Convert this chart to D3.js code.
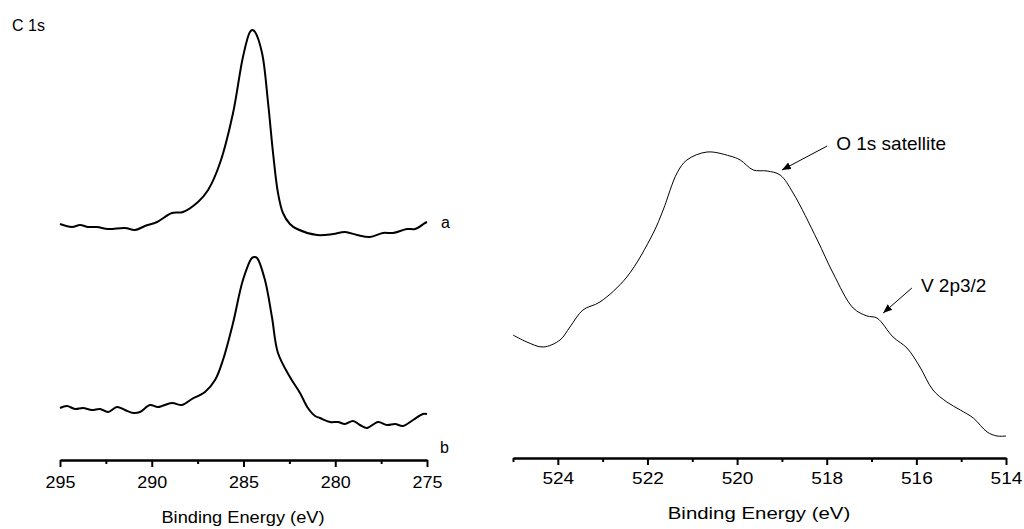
<!DOCTYPE html>
<html>
<head>
<meta charset="utf-8">
<script src="https://cdn.jsdelivr.net/npm/d3@7"></script>
<style>
  body { margin: 0; background: #fff; }
  text { font-family: "Liberation Sans", Arial, sans-serif; fill: #000; }
</style>
</head>
<body>
<script>
const WIDTH = 1024
const HEIGHT = 529

// C 1s spectra (binding energy in eV, intensity in arbitrary units, traces already offset)
const C1S_ENERGY_A = [295.00, 294.35, 293.91, 293.47, 292.98, 292.38, 291.46, 290.91, 290.37, 289.71, 288.90, 288.30, 287.48, 286.93, 286.28, 285.57, 285.03, 284.65, 284.51, 284.37, 283.99, 283.66, 283.39, 283.12, 282.85, 282.47, 282.08, 280.99, 280.12, 279.47, 278.81, 278.11, 277.40, 276.85, 276.09, 275.65, 275.11, 275.00]
const C1S_A = [236, 233, 235, 233, 233, 231, 232, 230, 234, 238, 247, 248, 258, 270, 297, 347, 403, 428, 430, 428, 407, 357, 307, 267, 247, 236, 231, 225, 226, 228, 225, 223, 227, 227, 231, 231, 237, 238]

const C1S_ENERGY_B = [295.00, 294.62, 294.18, 293.75, 293.26, 292.82, 292.38, 291.89, 291.46, 291.02, 290.64, 290.10, 289.66, 288.90, 288.35, 287.81, 287.10, 286.55, 286.12, 285.57, 285.03, 284.54, 284.40, 284.26, 283.83, 283.45, 283.12, 282.47, 281.92, 281.49, 281.10, 280.83, 280.29, 279.85, 279.47, 279.03, 278.65, 278.27, 277.67, 277.18, 276.74, 276.31, 275.76, 275.22, 275.00]
const C1S_B = [52, 54, 51, 52, 50, 51, 48, 53, 50, 47, 48, 55, 53, 57, 55, 61, 68, 80, 100, 137, 180, 202, 203, 202, 180, 143, 107, 83, 67, 52, 44, 42, 38, 38, 36, 39, 35, 32, 38, 35, 36, 34, 40, 46, 46]

// O 1s satellite / V 2p region
const V2P_ENERGY = [525.00, 524.69, 524.33, 523.95, 523.73, 523.44, 523.06, 522.46, 521.87, 521.65, 521.34, 521.12, 520.67, 520.16, 519.93, 519.64, 519.33, 519.04, 518.75, 518.21, 517.86, 517.41, 517.10, 516.88, 516.52, 516.21, 515.92, 515.63, 515.32, 515.02, 514.73, 514.42, 514.20, 514.00]
const V2P = [125, 118, 113, 120, 133, 150, 158, 183, 227, 250, 287, 300, 308, 304, 300, 290, 289, 285, 267, 220, 187, 152, 144, 142, 123, 112, 93, 70, 58, 50, 42, 28, 24, 24]

const LEFT_TICKS = [295, 290, 285, 280, 275]
const RIGHT_TICKS = [524, 522, 520, 518, 516, 514]

// annotations: [label, tail energy, tail intensity, tip energy, tip intensity]
const NOTES = [
  ['O 1s satellite', 517.99, 314, 519.0, 290],
  ['V 2p3/2', 516.10, 172, 516.74, 147]
]

const svg = d3.select('body').append('svg')
  .attr('width', WIDTH)
  .attr('height', HEIGHT)

svg.append('defs').append('marker')
  .attr('id', 'head')
  .attr('viewBox', '0 0 10 10')
  .attr('refX', 10)
  .attr('refY', 5)
  .attr('markerWidth', 9)
  .attr('markerHeight', 9)
  .attr('markerUnits', 'userSpaceOnUse')
  .attr('orient', 'auto')
  .append('path')
  .attr('d', 'M0,1 L10,5 L0,9 Z')
  .attr('fill', '#000')

const yScale = d3.scaleLinear().domain([0, 450]).range([460, 10])

// ---- left panel
const xLeft = d3.scaleLinear().domain([295, 275]).range([60, 427])

const lineLeft = (xs) => d3.line()
  .x((d, i) => xLeft(xs[i]))
  .y(d => yScale(d))
  .curve(d3.curveCatmullRom)

svg.append('path')
  .attr('d', lineLeft(C1S_ENERGY_A)(C1S_A))
  .attr('fill', 'none').attr('stroke', '#000').attr('stroke-width', 2)

svg.append('path')
  .attr('d', lineLeft(C1S_ENERGY_B)(C1S_B))
  .attr('fill', 'none').attr('stroke', '#000').attr('stroke-width', 2)

const minorLeft = d3.axisBottom(xLeft)
  .tickValues(d3.range(292.5, 275, -5))
  .tickSize(4).tickSizeOuter(0).tickFormat('')
const majorLeft = d3.axisBottom(xLeft)
  .tickValues(LEFT_TICKS)
  .tickSize(7).tickSizeOuter(0).tickFormat(d3.format('d'))

const gl = svg.append('g').attr('transform', 'translate(0,460)')
gl.append('g').call(minorLeft)
gl.append('g').call(majorLeft)
gl.selectAll('.domain').attr('stroke-width', 2)
gl.selectAll('.tick line').attr('stroke-width', 2)
gl.selectAll('.tick text')
  .attr('y', 17)
  .attr('font-size', 16)
  .attr('font-family', '"Liberation Sans", Arial, sans-serif')
  .attr('transform', 'scale(1.12,1)')

svg.append('text')
  .attr('transform', 'translate(243,523) scale(1.14,1)')
  .attr('text-anchor', 'middle')
  .attr('font-size', 16)
  .text('Binding Energy (eV)')

svg.append('text').attr('x', 12).attr('y', 31).attr('font-size', 16).text('C 1s')
svg.append('text').attr('x', 441).attr('y', 228).attr('font-size', 16).text('a')
svg.append('text').attr('x', 440).attr('y', 453).attr('font-size', 16).text('b')

// ---- right panel
const xRight = d3.scaleLinear().domain([525, 514]).range([513, 1006])

svg.append('path')
  .attr('d', d3.line()
    .x((d, i) => xRight(V2P_ENERGY[i]))
    .y(d => yScale(d))
    .curve(d3.curveCatmullRom)(V2P))
  .attr('fill', 'none').attr('stroke', '#000').attr('stroke-width', 1)

const minorRight = d3.axisBottom(xRight)
  .tickValues(d3.range(525, 514, -2))
  .tickSize(4).tickSizeOuter(0).tickFormat('')
const majorRight = d3.axisBottom(xRight)
  .tickValues(RIGHT_TICKS)
  .tickSize(7).tickSizeOuter(0).tickFormat(d3.format('d'))

const gr = svg.append('g').attr('transform', 'translate(0,458)')
gr.append('g').call(minorRight)
gr.append('g').call(majorRight)
gr.selectAll('.domain').attr('stroke-width', 2)
gr.selectAll('.tick line').attr('stroke-width', 2)
gr.selectAll('.tick text')
  .attr('y', 15)
  .attr('font-size', 16)
  .attr('font-family', '"Liberation Sans", Arial, sans-serif')
  .attr('transform', 'scale(1.19,1)')

svg.append('text')
  .attr('transform', 'translate(759,519) scale(1.2,1)')
  .attr('text-anchor', 'middle')
  .attr('font-size', 17)
  .text('Binding Energy (eV)')

// annotations with arrows
NOTES.forEach(([label, e0, v0, e1, v1]) => {
  svg.append('line')
    .attr('x1', xRight(e0)).attr('y1', yScale(v0))
    .attr('x2', xRight(e1)).attr('y2', yScale(v1))
    .attr('stroke', '#000').attr('stroke-width', 1)
    .attr('marker-end', 'url(#head)')
  svg.append('text')
    .attr('x', xRight(e0) + 9)
    .attr('y', yScale(v0) + 4)
    .attr('font-size', 19)
    .text(label)
})
</script>
</body>
</html>
